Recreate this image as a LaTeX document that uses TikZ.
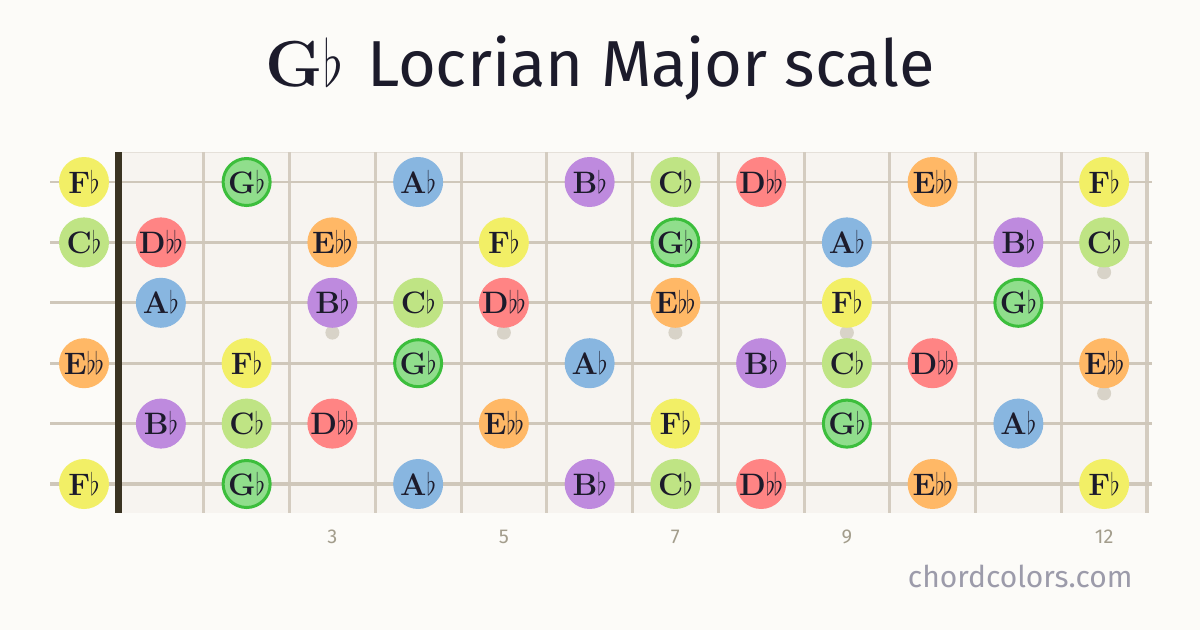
\RequirePackage{fix-cm}
\documentclass[tikz,border=0pt]{standalone}
\usepackage{fontspec}
\newfontfamily\titlefont{Fira Sans}
\definecolor{paper}{HTML}{FCFBF8}
\definecolor{board}{HTML}{F7F4F0}
\definecolor{fretc}{HTML}{D4CCC0}
\definecolor{stringc}{HTML}{CFC7BA}
\definecolor{nutc}{HTML}{3A3322}
\definecolor{dotc}{HTML}{D8D3C8}
\definecolor{ink}{HTML}{1C1B2B}
\definecolor{numc}{HTML}{A39D8C}
\definecolor{webc}{HTML}{9C9BAA}
\definecolor{fcol}{HTML}{F2EF66}
\definecolor{gcol}{HTML}{90DE8C}
\definecolor{groot}{HTML}{3CBE3C}
\definecolor{acol}{HTML}{88B6E0}
\definecolor{bcol}{HTML}{BE8ADE}
\definecolor{ccol}{HTML}{BFE484}
\definecolor{dcol}{HTML}{FF8484}
\definecolor{ecol}{HTML}{FFB866}
\newcommand{\fl}{\scalebox{0.8}[1]{$\flat$}}
\newcommand{\dfl}{\fl\kern-1.5pt\fl}
\newcommand{\notetxt}[1]{\makebox[30pt]{#1}}
\tikzset{
  note/.style={circle,minimum size=50pt,inner sep=0pt,text=ink,
    text height=22pt,text depth=0pt,
    font=\bfseries\fontsize{31}{31}\selectfont},
  fnote/.style={note,fill=fcol},
  gnote/.style={note,fill=gcol,draw=groot,line width=3pt,minimum size=47pt},
  anote/.style={note,fill=acol},
  bnote/.style={note,fill=bcol},
  cnote/.style={note,fill=ccol},
  dnote/.style={note,fill=dcol},
  enote/.style={note,fill=ecol},
  fretnum/.style={text=numc,font=\titlefont\fontsize{20}{20}\selectfont}
}
\begin{document}
\begin{tikzpicture}[x=1pt,y=-1pt]
\fill[paper] (0,0) rectangle (1200,630);
\useasboundingbox (0,0) rectangle (1200,630);
% fretboard
\fill[board] (118,152) rectangle (1147,513);
\draw[fretc!60,line width=1pt] (118,152) -- (1147,152);
\foreach \k in {1,...,11}
  \draw[fretc,line width=3pt] ({118+85.75*\k},152) -- ({118+85.75*\k},513);
\draw[fretc,line width=4.5pt] (1147,152) -- (1147,513);
\foreach \s in {1,...,6}
  \draw[stringc,line width={2.4pt+0.25pt*\s}] (50,{182+60.4*(\s-1)}) -- (1152,{182+60.4*(\s-1)});
\fill[nutc] (115,152) rectangle (122,513);
% fret markers
\foreach \f in {3,5,7,9}
  \fill[dotc] ({118+85.75*(\f-0.5)},332.6) circle (7pt);
\fill[dotc] ({118+85.75*11.5},272.2) circle (7pt);
\fill[dotc] ({118+85.75*11.5},393.4) circle (7pt);
% notes
\foreach \s/\f/\t/\st in {
  1/0/F\fl/fnote, 1/2/G\fl/gnote, 1/4/A\fl/anote, 1/6/B\fl/bnote,
  1/7/C\fl/cnote, 1/8/D\dfl/dnote, 1/10/E\dfl/enote, 1/12/F\fl/fnote,
  2/0/C\fl/cnote, 2/1/D\dfl/dnote, 2/3/E\dfl/enote, 2/5/F\fl/fnote,
  2/7/G\fl/gnote, 2/9/A\fl/anote, 2/11/B\fl/bnote, 2/12/C\fl/cnote,
  3/1/A\fl/anote, 3/3/B\fl/bnote, 3/4/C\fl/cnote, 3/5/D\dfl/dnote,
  3/7/E\dfl/enote, 3/9/F\fl/fnote, 3/11/G\fl/gnote,
  4/0/E\dfl/enote, 4/2/F\fl/fnote, 4/4/G\fl/gnote, 4/6/A\fl/anote,
  4/8/B\fl/bnote, 4/9/C\fl/cnote, 4/10/D\dfl/dnote, 4/12/E\dfl/enote,
  5/1/B\fl/bnote, 5/2/C\fl/cnote, 5/3/D\dfl/dnote, 5/5/E\dfl/enote,
  5/7/F\fl/fnote, 5/9/G\fl/gnote, 5/11/A\fl/anote,
  6/0/F\fl/fnote, 6/2/G\fl/gnote, 6/4/A\fl/anote, 6/6/B\fl/bnote,
  6/7/C\fl/cnote, 6/8/D\dfl/dnote, 6/10/E\dfl/enote, 6/12/F\fl/fnote}
{
  \ifnum\f=0 \def\nx{84}\else \pgfmathsetmacro\nx{118+85.75*(\f-0.5)}\fi
  \node[\st] (n\s-\f) at (\nx,{182+60.4*(\s-1)}) {\notetxt{\t}};
}
% fret numbers
\foreach \f in {3,5,7,9,12}
  \node[fretnum] (num\f) at ({118+85.75*(\f-0.5)},537) {\f};
% title and site
\node[anchor=base,text=ink,font=\fontsize{65}{65}\selectfont] (title) at (600,86)
  {\bfseries G\scalebox{0.8}[1]{$\flat$} \titlefont\mdseries Locrian Major scale};
\node[anchor=base east,text=webc,font=\titlefont\fontsize{30}{30}\selectfont] (site) at (1136,587)
  {chordcolors.com};
\end{tikzpicture}
\end{document}
